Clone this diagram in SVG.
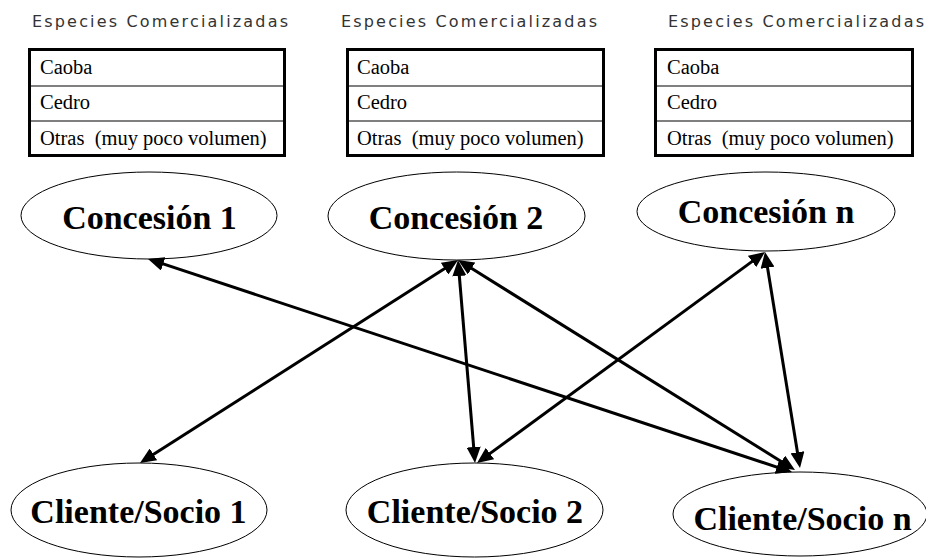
<svg xmlns="http://www.w3.org/2000/svg" width="926" height="558" viewBox="0 0 926 558">
<style>
.title{font-family:"DejaVu Sans","Liberation Sans",sans-serif;font-size:16px;fill:#333;}
.cell{font-family:"Liberation Serif","Times New Roman",serif;font-size:20.5px;fill:#000;}
.tbl{fill:#fff;stroke:#000;stroke-width:3;}
.row{stroke:#000;stroke-width:1.2;}
.node{fill:#fff;stroke:#000;stroke-width:1;}
.lbl{font-family:"Liberation Serif","Times New Roman",serif;font-size:34px;font-weight:bold;fill:#000;text-anchor:middle;}
.conn{stroke:#000;stroke-width:3;fill:none;marker-start:url(#ah);marker-end:url(#ah);}
</style>
<defs>
<marker id="ah" markerUnits="userSpaceOnUse" markerWidth="18" markerHeight="14" viewBox="0 0 18 14" refX="4" refY="7" orient="auto-start-reverse">
<path d="M0,0 L16,7 L0,14 Z" fill="#000"/>
</marker>
</defs>
<rect width="926" height="558" fill="#fff"/>

<g id="tabla1">
<text class="title" x="32" y="27" textLength="256" lengthAdjust="spacing">Especies Comercializadas</text>
<rect class="tbl" x="29.5" y="49.5" width="255" height="106"/>
<line class="row" x1="29" y1="86" x2="285" y2="86"/>
<line class="row" x1="29" y1="121" x2="285" y2="121"/>
<text class="cell" x="40" y="74">Caoba</text>
<text class="cell" x="40" y="109">Cedro</text>
<text class="cell" x="40" y="145" xml:space="preserve">Otras  (muy poco volumen)</text>
</g>

<g id="tabla2">
<text class="title" x="341" y="27" textLength="256" lengthAdjust="spacing">Especies Comercializadas</text>
<rect class="tbl" x="347.5" y="49.5" width="256" height="106"/>
<line class="row" x1="347" y1="86" x2="604" y2="86"/>
<line class="row" x1="347" y1="121" x2="604" y2="121"/>
<text class="cell" x="357" y="74">Caoba</text>
<text class="cell" x="357" y="109">Cedro</text>
<text class="cell" x="357" y="145" xml:space="preserve">Otras  (muy poco volumen)</text>
</g>

<g id="tabla3">
<text class="title" x="668" y="27" textLength="256" lengthAdjust="spacing">Especies Comercializadas</text>
<rect class="tbl" x="655.5" y="49.5" width="257" height="106"/>
<line class="row" x1="655" y1="86" x2="913" y2="86"/>
<line class="row" x1="655" y1="121" x2="913" y2="121"/>
<text class="cell" x="667" y="74">Caoba</text>
<text class="cell" x="667" y="109">Cedro</text>
<text class="cell" x="667" y="145" xml:space="preserve">Otras  (muy poco volumen)</text>
</g>

<g id="concesion1">
<ellipse class="node" cx="149" cy="215.5" rx="128" ry="43.5"/>
<text class="lbl" x="149.5" y="229">Concesión 1</text>
</g>
<g id="concesion2">
<ellipse class="node" cx="456.5" cy="216" rx="128.5" ry="44"/>
<text class="lbl" x="456" y="229">Concesión 2</text>
</g>
<g id="concesionn">
<ellipse class="node" cx="766" cy="211.5" rx="129" ry="39.5"/>
<text class="lbl" x="766" y="223">Concesión n</text>
</g>
<g id="cliente1">
<ellipse class="node" cx="139" cy="510" rx="128" ry="47"/>
<text class="lbl" x="138.5" y="523">Cliente/Socio 1</text>
</g>
<g id="cliente2">
<ellipse class="node" cx="474.5" cy="510" rx="128.5" ry="47"/>
<text class="lbl" x="475" y="523">Cliente/Socio 2</text>
</g>
<g id="clienten">
<ellipse class="node" cx="800" cy="514" rx="127" ry="42"/>
<text class="lbl" x="802.5" y="530">Cliente/Socio n</text>
</g>

<g id="connectors">
<line class="conn" x1="159.4" y1="262.7" x2="780.6" y2="468.3"/>
<line class="conn" x1="447.9" y1="266.5" x2="150.1" y2="456.5"/>
<line class="conn" x1="459" y1="272" x2="474" y2="451"/>
<line class="conn" x1="468.2" y1="266.3" x2="784.8" y2="463.7"/>
<line class="conn" x1="755.3" y1="259.1" x2="486.7" y2="455.9"/>
<line class="conn" x1="766.9" y1="263.8" x2="798.1" y2="456.2"/>
</g>
</svg>
